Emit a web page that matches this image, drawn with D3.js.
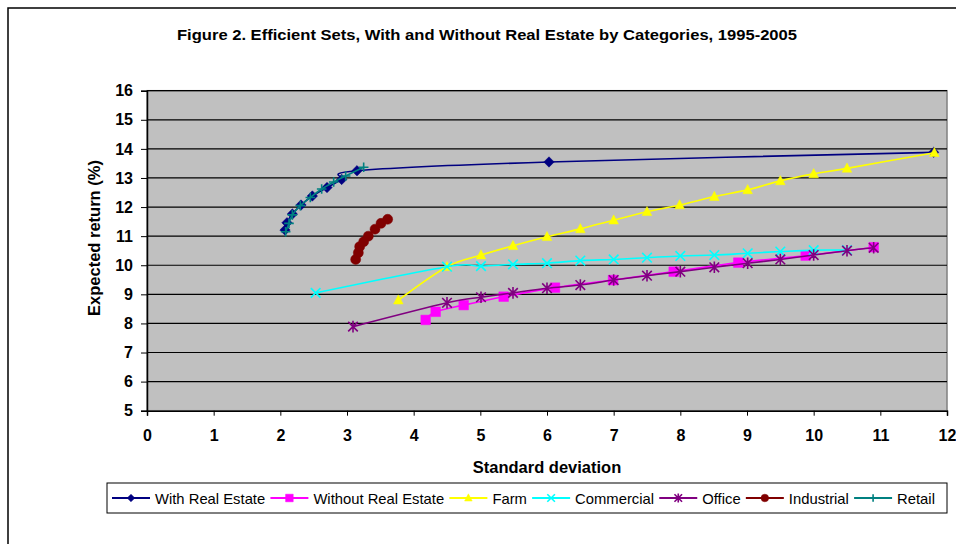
<!DOCTYPE html>
<html>
<head>
<meta charset="utf-8">
<script src="https://cdn.jsdelivr.net/npm/d3@7"></script>
<style>
  body { margin: 0; background: #fff; }
  svg { display: block; font-family: Arial, "Liberation Sans", sans-serif; }
</style>
</head>
<body>
<div id="chart"></div>
<script>
// efficient frontier points (x = std dev, y = expected return)
const withRE_x = [2.07, 2.10, 2.18, 2.31, 2.48, 2.70, 2.92, 3.15, 6.03, 11.80];
const withRE_y = [11.21, 11.46, 11.76, 12.07, 12.38, 12.67, 12.95, 13.25, 13.55, 13.88];

const withoutRE_x = [4.18, 4.33, 4.75, 5.35, 6.12, 6.99, 7.90, 8.87, 9.88, 10.90];
const withoutRE_y = [8.12, 8.40, 8.63, 8.92, 9.23, 9.49, 9.78, 10.09, 10.33, 10.62];

const farm_x = [3.77, 4.50, 5.01, 5.49, 6.00, 6.50, 7.00, 7.50, 7.99, 8.51, 9.01, 9.50, 10.00, 10.50, 11.81];
const farm_y = [8.80, 9.95, 10.35, 10.67, 10.98, 11.25, 11.55, 11.84, 12.07, 12.36, 12.59, 12.90, 13.14, 13.33, 13.87];

const commercial_x = [2.53, 4.50, 5.01, 5.49, 6.00, 6.50, 7.00, 7.50, 8.00, 8.51, 9.01, 9.50, 10.00, 10.50];
const commercial_y = [9.05, 9.95, 9.97, 10.03, 10.07, 10.16, 10.20, 10.26, 10.32, 10.35, 10.41, 10.47, 10.52, 10.52];

const office_x = [3.09, 4.50, 5.01, 5.49, 6.00, 6.50, 7.00, 7.50, 8.00, 8.51, 9.01, 9.50, 10.00, 10.50, 10.90];
const office_y = [7.89, 8.71, 8.90, 9.05, 9.21, 9.32, 9.49, 9.64, 9.78, 9.93, 10.07, 10.20, 10.35, 10.50, 10.60];

const industrial_x = [3.13, 3.17, 3.19, 3.25, 3.32, 3.42, 3.51, 3.61];
const industrial_y = [10.20, 10.43, 10.64, 10.81, 11.00, 11.24, 11.44, 11.58];

const retail_x = [2.08, 2.13, 2.18, 2.30, 2.45, 2.62, 2.80, 2.98, 3.25];
const retail_y = [11.15, 11.44, 11.73, 12.05, 12.33, 12.62, 12.86, 13.07, 13.37];

const series_names = ["With Real Estate", "Without Real Estate", "Farm", "Commercial", "Office", "Industrial", "Retail"];
const x_ticks = d3.range(0, 13);
const y_ticks = d3.range(5, 17);

const title = "Figure 2. Efficient Sets, With and Without Real Estate by Categories, 1995-2005";
const x_title = "Standard deviation";
const y_title = "Expected return (%)";

const series = [
    {name: series_names[0], xs: withRE_x, ys: withRE_y, color: "#000080", marker: "diamond"},
    {name: series_names[1], xs: withoutRE_x, ys: withoutRE_y, color: "#ff00ff", marker: "square"},
    {name: series_names[2], xs: farm_x, ys: farm_y, color: "#ffff00", marker: "triangle"},
    {name: series_names[3], xs: commercial_x, ys: commercial_y, color: "#00ffff", marker: "x"},
    {name: series_names[4], xs: office_x, ys: office_y, color: "#800080", marker: "star"},
    {name: series_names[5], xs: industrial_x, ys: industrial_y, color: "#800000", marker: "circle"},
    {name: series_names[6], xs: retail_x, ys: retail_y, color: "#008080", marker: "plus"}
];

const width = 956, height = 544;
const plot = {left: 147, right: 947, top: 90.7, bottom: 410.7};

const svg = d3.select("#chart").append("svg")
    .attr("width", width)
    .attr("height", height);

// outer frame (right and bottom edges fall outside the window)
svg.append("rect")
    .attr("x", 8).attr("y", 8)
    .attr("width", 1000).attr("height", 600)
    .attr("fill", "#fff")
    .attr("stroke", "#000")
    .attr("stroke-width", 1.5);

const x = d3.scaleLinear().domain([0, 12]).range([plot.left, plot.right]);
const y = d3.scaleLinear().domain([5, 16]).range([plot.bottom, plot.top]);

svg.append("text")
    .attr("x", 487).attr("y", 40)
    .attr("text-anchor", "middle")
    .attr("font-size", 15).attr("font-weight", "bold")
    .attr("textLength", 620).attr("lengthAdjust", "spacingAndGlyphs")
    .text(title);

// plot area
svg.append("rect")
    .attr("x", plot.left).attr("y", plot.top)
    .attr("width", plot.right - plot.left).attr("height", plot.bottom - plot.top)
    .attr("fill", "#c0c0c0")
    .attr("stroke", "#808080")
    .attr("stroke-width", 1.5);

svg.append("g")
    .selectAll("line")
    .data(y_ticks.slice(1))
    .join("line")
    .attr("x1", plot.left).attr("x2", plot.right)
    .attr("y1", d => y(d)).attr("y2", d => y(d))
    .attr("stroke", "#000")
    .attr("stroke-width", 1.2);

const y_axis = svg.append("g")
    .attr("transform", "translate(" + plot.left + ",0)")
    .call(d3.axisLeft(y).tickValues(y_ticks).tickFormat(d3.format("d")).tickSize(6).tickPadding(8));

const x_axis = svg.append("g")
    .attr("transform", "translate(0," + plot.bottom + ")")
    .call(d3.axisBottom(x).tickValues(x_ticks).tickFormat(d3.format("d")).tickSize(5).tickPadding(14));

[y_axis, x_axis].forEach(ax => {
    ax.select(".domain").attr("stroke", "#000").attr("stroke-width", 1.5);
    ax.selectAll(".tick line").attr("stroke", "#000");
    ax.selectAll(".tick text")
        .attr("font-size", 16).attr("font-weight", "bold")
        .attr("font-family", "Arial, 'Liberation Sans', sans-serif")
        .attr("fill", "#000");
});

svg.append("text")
    .attr("x", 547).attr("y", 473)
    .attr("text-anchor", "middle")
    .attr("font-size", 16.5).attr("font-weight", "bold")
    .text(x_title);

svg.append("text")
    .attr("transform", "translate(100,238) rotate(-90)")
    .attr("text-anchor", "middle")
    .attr("font-size", 16.5).attr("font-weight", "bold")
    .text(y_title);

// marker paths centred on 0,0
function marker_path(kind, r) {
    switch (kind) {
        case "diamond":
            return "M0," + (-r) + "L" + r + ",0L0," + r + "L" + (-r) + ",0Z";
        case "square":
            return "M" + (-r) + "," + (-r) + "h" + 2 * r + "v" + 2 * r + "h" + (-2 * r) + "Z";
        case "triangle":
            return "M0," + (-r * 1.1) + "L" + r + "," + r * 0.8 + "L" + (-r) + "," + r * 0.8 + "Z";
        case "x":
            return "M" + (-r) + "," + (-r) + "L" + r + "," + r + "M" + (-r) + "," + r + "L" + r + "," + (-r);
        case "star":
            return "M" + (-r) + "," + (-r) + "L" + r + "," + r + "M" + (-r) + "," + r + "L" + r + "," + (-r) +
                "M0," + (-r * 1.2) + "L0," + r * 1.2;
        case "plus":
            return "M" + (-r) + ",0L" + r + ",0M0," + (-r) + "L0," + r;
        case "circle":
            return d3.symbol(d3.symbolCircle, Math.PI * r * r)();
    }
}
const stroked = {x: true, star: true, plus: true};

function draw_marker(sel, s, r) {
    sel.attr("d", marker_path(s.marker, r))
        .attr("fill", stroked[s.marker] ? "none" : s.color)
        .attr("stroke", s.color)
        .attr("stroke-width", stroked[s.marker] ? 1.6 : 0.5);
}

const line = d3.line()
    .x(d => x(d[0]))
    .y(d => y(d[1]))
    .curve(d3.curveCardinal.tension(0));

const series_g = svg.append("g")
    .selectAll("g.series")
    .data(series)
    .join("g")
    .classed("series", true);

series_g.append("path")
    .attr("d", s => line(s.xs.map((v, i) => [v, s.ys[i]])))
    .attr("fill", "none")
    .attr("stroke", s => s.color)
    .attr("stroke-width", 1.6);

series_g.each(function (s) {
    const g = d3.select(this);
    const r = s.marker === "circle" ? 5 : (s.marker === "diamond" ? 5.2 : 4.8);
    g.selectAll("path.marker")
        .data(s.xs.map((v, i) => [v, s.ys[i]]))
        .join("path")
        .classed("marker", true)
        .attr("transform", d => "translate(" + x(d[0]) + "," + y(d[1]) + ")")
        .call(sel => draw_marker(sel, s, r));
});

// legend
const legend = {left: 107, top: 483, right: 947, bottom: 513};
svg.append("rect")
    .attr("x", legend.left).attr("y", legend.top)
    .attr("width", legend.right - legend.left).attr("height", legend.bottom - legend.top)
    .attr("fill", "#fff").attr("stroke", "#000").attr("stroke-width", 1);

let lx = legend.left + 5;
const ly = (legend.top + legend.bottom) / 2;
series.forEach(s => {
    const g = svg.append("g").attr("transform", "translate(" + lx + "," + ly + ")");
    g.append("line")
        .attr("x1", 0).attr("x2", 38).attr("y1", 0).attr("y2", 0)
        .attr("stroke", s.color).attr("stroke-width", 2);
    g.append("path")
        .attr("transform", "translate(19,0)")
        .call(sel => draw_marker(sel, s, 3.8));
    const t = g.append("text")
        .attr("x", 43).attr("y", 5.5)
        .attr("font-size", 14.8)
        .text(s.name);
    lx += 43 + t.node().getComputedTextLength() + 5.2;
});
</script>
</body>
</html>
